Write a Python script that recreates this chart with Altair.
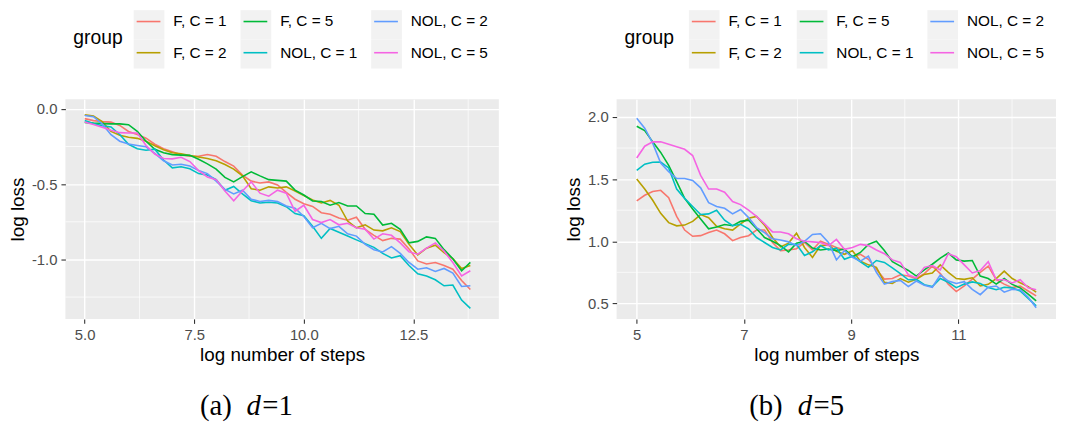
import altair as alt
import numpy as np
import pandas as pd

GROUPS = ["F, C = 1", "F, C = 2", "F, C = 5", "NOL, C = 1", "NOL, C = 2", "NOL, C = 5"]
COLORS = ["#F8766D", "#B79F00", "#00BA38", "#00BFC4", "#619CFF", "#F564E3"]

# ---------------- panel (a): d = 1 ----------------
X_D1 = np.round(np.linspace(5.0, 13.8, 45), 3).tolist()
D1_F1 = [-0.065, -0.078, -0.085, -0.088, -0.110, -0.150, -0.170, -0.195, -0.235, -0.265,
         -0.285, -0.305, -0.315, -0.315, -0.303, -0.315, -0.350, -0.380, -0.440, -0.480,
         -0.492, -0.485, -0.505, -0.555, -0.600, -0.630, -0.648, -0.690, -0.700, -0.725,
         -0.740, -0.720, -0.800, -0.840, -0.875, -0.860, -0.865, -0.930, -1.010, -1.030,
         -1.020, -1.040, -1.065, -1.140, -1.200]
D1_F2 = [-0.040, -0.048, -0.085, -0.150, -0.175, -0.188, -0.196, -0.215, -0.245, -0.272,
         -0.292, -0.298, -0.310, -0.320, -0.330, -0.345, -0.370, -0.400, -0.445, -0.530,
         -0.540, -0.518, -0.525, -0.518, -0.545, -0.575, -0.605, -0.625, -0.608, -0.640,
         -0.745, -0.790, -0.770, -0.805, -0.810, -0.790, -0.815, -0.900, -0.970, -0.925,
         -0.905, -0.955, -0.995, -1.060, -1.040]
D1_F5 = [-0.090, -0.095, -0.098, -0.100, -0.100, -0.105, -0.150, -0.215, -0.268, -0.292,
         -0.304, -0.307, -0.309, -0.335, -0.365, -0.400, -0.455, -0.485, -0.450, -0.418,
         -0.445, -0.470, -0.475, -0.480, -0.540, -0.572, -0.612, -0.615, -0.640, -0.622,
         -0.645, -0.645, -0.695, -0.700, -0.772, -0.760, -0.800, -0.890, -0.880, -0.850,
         -0.860, -0.935, -0.995, -1.075, -1.020]
D1_N1 = [-0.077, -0.097, -0.112, -0.120, -0.170, -0.235, -0.265, -0.275, -0.268, -0.340,
         -0.392, -0.385, -0.398, -0.430, -0.440, -0.470, -0.540, -0.515, -0.565, -0.610,
         -0.625, -0.620, -0.625, -0.650, -0.695, -0.710, -0.780, -0.860, -0.795, -0.820,
         -0.845, -0.870, -0.895, -0.920, -0.960, -0.990, -0.975, -1.040, -1.095, -1.110,
         -1.135, -1.175, -1.170, -1.270, -1.325]
D1_N2 = [-0.044, -0.052, -0.100, -0.172, -0.215, -0.233, -0.243, -0.252, -0.295, -0.345,
         -0.373, -0.368, -0.380, -0.410, -0.430, -0.480, -0.535, -0.565, -0.540, -0.600,
         -0.615, -0.608, -0.615, -0.645, -0.660, -0.715, -0.790, -0.760, -0.795, -0.780,
         -0.830, -0.845, -0.900, -0.935, -0.950, -0.915, -0.960, -1.020, -1.065, -1.055,
         -1.080, -1.060, -1.090, -1.180, -1.175]
D1_N5 = [-0.088, -0.104, -0.122, -0.142, -0.158, -0.160, -0.160, -0.243, -0.300, -0.330,
         -0.332, -0.322, -0.350, -0.410, -0.452, -0.470, -0.545, -0.610, -0.545, -0.485,
         -0.560, -0.580, -0.540, -0.560, -0.680, -0.640, -0.735, -0.755, -0.735, -0.770,
         -0.760, -0.790, -0.800, -0.865, -0.830, -0.840, -0.890, -0.950, -0.965, -0.925,
         -0.890, -0.945, -1.020, -1.110, -1.075]
D1_XTICKS = [5.0, 7.5, 10.0, 12.5]
D1_YTICKS = [-1.0, -0.5, 0.0]
D1_XMINOR = [6.25, 8.75, 11.25, 13.75]
D1_YMINOR = [-1.25, -0.75, -0.25]
D1_XDOM = [4.56, 14.45]
D1_YDOM = [-1.395, 0.064]

# ---------------- panel (b): d = 5 ----------------
X_D5 = np.round(np.linspace(5.0, 12.45, 51), 3).tolist()
D5_F1 = [1.325, 1.37, 1.40, 1.41, 1.35, 1.20, 1.09, 1.04, 1.045, 1.07, 1.09, 1.06, 1.005,
         1.03, 1.045, 1.09, 1.09, 0.99, 0.925, 0.93, 0.94, 0.99, 0.93, 1.00, 0.975, 0.95,
         0.93, 0.875, 0.895, 0.855, 0.775, 0.695, 0.70, 0.73, 0.72, 0.70, 0.74, 0.80, 0.74,
         0.655, 0.595, 0.64, 0.695, 0.75, 0.80, 0.69, 0.655, 0.627, 0.64, 0.60, 0.56]
D5_F2 = [1.50, 1.42, 1.33, 1.225, 1.15, 1.124, 1.13, 1.16, 1.215, 1.19, 1.12, 1.10, 1.09,
         1.14, 1.185, 1.20, 1.13, 1.03, 0.955, 0.985, 1.065, 0.95, 0.87, 0.965, 0.97, 0.92,
         0.895, 0.924, 0.84, 0.81, 0.79, 0.67, 0.66, 0.70, 0.67, 0.693, 0.733, 0.745, 0.81,
         0.75, 0.70, 0.693, 0.706, 0.64, 0.653, 0.70, 0.76, 0.70, 0.666, 0.635, 0.59]
D5_F5 = [1.925, 1.89, 1.80, 1.715, 1.61, 1.48, 1.345, 1.26, 1.18, 1.10, 1.115, 1.135, 1.125,
         1.16, 1.17, 1.10, 1.03, 1.00, 0.965, 0.915, 0.985, 1.00, 0.945, 0.93, 0.937, 0.925,
         0.937, 0.875, 0.91, 0.975, 1.00, 0.925, 0.835, 0.80, 0.765, 0.72, 0.77, 0.815, 0.865,
         0.905, 0.85, 0.84, 0.845, 0.72, 0.70, 0.655, 0.70, 0.653, 0.625, 0.575, 0.52]
D5_N1 = [1.57, 1.62, 1.636, 1.637, 1.59, 1.42, 1.345, 1.28, 1.215, 1.22, 1.25, 1.17, 1.125,
         1.137, 1.10, 1.03, 0.99, 0.95, 0.93, 0.975, 0.975, 0.885, 0.915, 0.965, 0.93, 0.945,
         0.855, 0.88, 0.835, 0.79, 0.845, 0.83, 0.785, 0.74, 0.69, 0.693, 0.65, 0.635, 0.70,
         0.67, 0.627, 0.655, 0.673, 0.66, 0.627, 0.61, 0.63, 0.625, 0.60, 0.54, 0.48]
D5_N2 = [1.99, 1.91, 1.79, 1.63, 1.56, 1.505, 1.505, 1.49, 1.43, 1.31, 1.28, 1.265, 1.22,
         1.255, 1.19, 1.11, 1.07, 1.02, 1.01, 0.995, 0.965, 1.00, 1.055, 1.06, 0.99, 0.85,
         0.925, 0.87, 0.84, 0.88, 0.75, 0.655, 0.675, 0.685, 0.635, 0.68, 0.645, 0.63, 0.73,
         0.68, 0.66, 0.675, 0.613, 0.57, 0.63, 0.64, 0.59, 0.613, 0.61, 0.55, 0.465]
D5_N5 = [1.67, 1.765, 1.80, 1.80, 1.78, 1.76, 1.74, 1.69, 1.53, 1.42, 1.42, 1.395, 1.32,
         1.295, 1.25, 1.20, 1.14, 1.075, 1.075, 1.06, 1.02, 1.00, 0.995, 0.99, 0.965, 1.015,
         0.935, 0.95, 0.975, 0.965, 0.93, 0.90, 0.85, 0.83, 0.73, 0.705, 0.79, 0.805, 0.77,
         0.90, 0.875, 0.81, 0.745, 0.765, 0.835, 0.69, 0.69, 0.665, 0.69, 0.625, 0.61]
D5_XTICKS = [5, 7, 9, 11]
D5_YTICKS = [0.5, 1.0, 1.5, 2.0]
D5_XMINOR = [6, 8, 10, 12]
D5_YMINOR = [0.75, 1.25, 1.75]
D5_XDOM = [4.625, 12.82]
D5_YDOM = [0.375, 2.143]

SANS = "Liberation Sans"
SERIF = "Liberation Serif"
PLOT_H = 222


def long_df(xs, series):
    rows = []
    for g, ys in zip(GROUPS, series):
        assert len(ys) == len(xs), (g, len(ys), len(xs))
        for x, y in zip(xs, ys):
            rows.append({"x": x, "y": y, "group": g})
    return pd.DataFrame(rows)


def color_enc():
    return alt.Color("group:N", scale=alt.Scale(domain=GROUPS, range=COLORS), legend=None)


def legend_chart(width, key_x):
    rows = []
    row_cy = [11.5, 43.0]
    for i, g in enumerate(GROUPS):
        col, r = i // 2, i % 2
        kx = key_x[col]
        rows.append({"group": g, "kx": kx, "kx2": kx + 31, "lx1": kx + 3, "lx2": kx + 27,
                     "tx": kx + 40, "ry0": r * 29.5, "ry1": (r + 1) * 29.5, "cy": row_cy[r]})
    ld = pd.DataFrame(rows)
    base = alt.Chart(ld)
    keys = base.mark_rect(color="#F2F2F2").encode(
        x=alt.X("kx:Q", scale=None), x2="kx2:Q",
        y=alt.Y("ry0:Q", scale=None), y2="ry1:Q")
    strokes = base.mark_rule(strokeWidth=1.6).encode(
        x=alt.X("lx1:Q", scale=None), x2="lx2:Q",
        y=alt.Y("cy:Q", scale=None), color=color_enc())
    labels = base.mark_text(align="left", baseline="middle", font=SANS, fontSize=15.5,
                            color="black").encode(
        x=alt.X("tx:Q", scale=None), y=alt.Y("cy:Q", scale=None), text="group:N")
    title = alt.Chart(pd.DataFrame({"t": ["group"]})).mark_text(
        align="left", baseline="middle", font=SANS, fontSize=19.5, color="black").encode(
        x=alt.value(8), y=alt.value(28), text="t:N")
    return alt.layer(keys, strokes, labels, title).properties(width=width, height=69)


def panel(df, width, xdom, ydom, xticks, yticks, xminor, yminor, xfmt, ylabel_expr, caption):
    xscale = alt.Scale(domain=xdom, nice=False, zero=False)
    yscale = alt.Scale(domain=ydom, nice=False, zero=False)
    X = alt.X("x:Q", scale=xscale,
              axis=alt.Axis(values=xticks, format=xfmt, title="log number of steps",
                            labelFlush=False))
    Y = alt.Y("y:Q", scale=yscale,
              axis=alt.Axis(values=yticks, labelExpr=ylabel_expr, title="log loss",
                            labelFlush=False))
    vminor = alt.Chart(pd.DataFrame({"x": xminor})).mark_rule(
        color="white", strokeWidth=0.7).encode(x=X)
    hminor = alt.Chart(pd.DataFrame({"y": yminor})).mark_rule(
        color="white", strokeWidth=0.7).encode(y=Y)
    lines = alt.Chart(df).mark_line(strokeWidth=1.6, clip=True).encode(
        x=X, y=Y, color=color_enc())
    caps = []
    for text, px, style in caption:
        caps.append(alt.Chart(pd.DataFrame({"t": [text]})).mark_text(
            align="left", baseline="alphabetic", font=SERIF, fontSize=29,
            fontStyle=style, color="black").encode(
            x=alt.value(px), y=alt.value(319), text="t:N"))
    return alt.layer(vminor, hminor, lines, *caps).properties(
        width=width, height=PLOT_H,
        view=alt.ViewBackground(fill="#EBEBEB", strokeWidth=0))


df1 = long_df(X_D1, [D1_F1, D1_F2, D1_F5, D1_N1, D1_N2, D1_N5])
df5 = long_df(X_D5, [D5_F1, D5_F2, D5_F5, D5_N1, D5_N2, D5_N5])

NEG_EXPR = "(datum.value < 0 ? '-' : '') + format(abs(datum.value), '.1f')"

left = alt.vconcat(
    legend_chart(438, [69, 177, 309]),
    panel(df1, 438, D1_XDOM, D1_YDOM, D1_XTICKS, D1_YTICKS, D1_XMINOR, D1_YMINOR,
          ".1f", NEG_EXPR,
          [("(a)", 136, "normal"), ("d", 183, "italic"), ("=1", 199, "normal")]),
    spacing=20,
)
right = alt.vconcat(
    legend_chart(444, [73, 182, 314]),
    panel(df5, 444, D5_XDOM, D5_YDOM, D5_XTICKS, D5_YTICKS, D5_XMINOR, D5_YMINOR,
          "d", "format(datum.value, '.1f')",
          [("(b)", 134, "normal"), ("d", 183, "italic"), ("=5", 199, "normal")]),
    spacing=20,
)

chart = alt.hconcat(left, right, spacing=65).properties(padding=0).configure(
    font=SANS
).configure_view(strokeWidth=0).configure_axis(
    grid=True, gridColor="white", gridWidth=1.4, domain=False,
    ticks=True, tickColor="#333333", tickSize=4.5, tickWidth=1.1,
    labelColor="#4D4D4D", labelFont=SANS, labelFontSize=15, labelPadding=4,
    titleFont=SANS, titleFontSize=19, titleFontWeight="normal", titleColor="black",
    titlePadding=4,
)

chart.save("out.html", embed_options={"renderer": "svg", "actions": False})
